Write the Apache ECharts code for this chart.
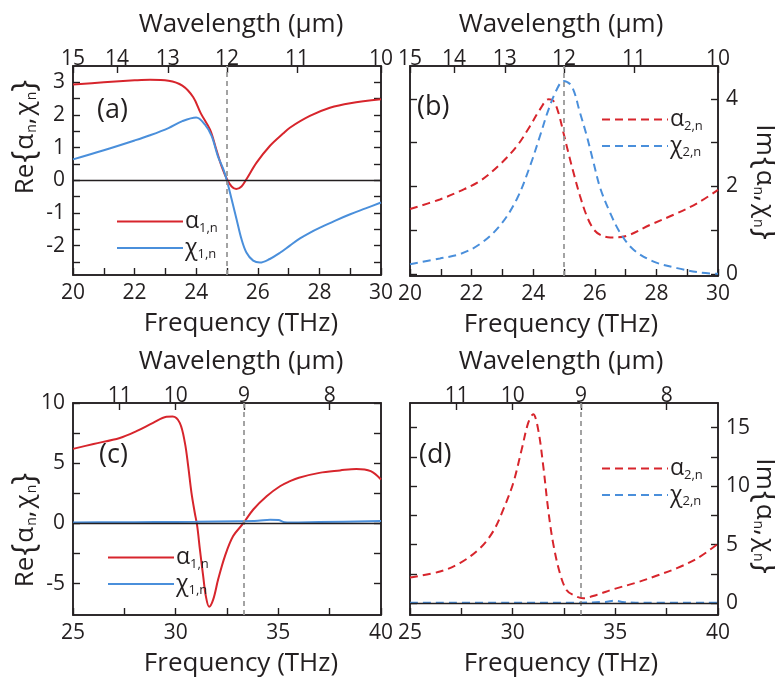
<!DOCTYPE html>
<html><head><meta charset="utf-8">
<script src="https://cdn.jsdelivr.net/npm/echarts@6/dist/echarts.min.js"></script>
<style>html,body{margin:0;padding:0;background:#fff}#c{width:775px;height:685px}</style>
</head><body><div id="c"></div>
<script>
// ---------- data ----------
// panel (a): Re{alpha_1,n}, Re{chi_1,n}
const fA_alpha = [20,21,22,22.5,23.1,23.55,23.9,24.15,24.45,24.65,24.82,25.0,25.15,25.3,25.47,25.63,25.96,26.39,26.82,27.04,27.69,28.34,29.0,30];
const vA_alpha = [2.93,3.0,3.06,3.08,3.05,2.9,2.55,2.05,1.55,0.95,0.44,0.03,-0.19,-0.27,-0.19,0.03,0.54,1.05,1.43,1.61,1.97,2.22,2.36,2.48];
const fA_chi = [20,21,22,22.5,23.1,23.55,24.0,24.28,24.5,24.7,24.88,25.0,25.15,25.31,25.47,25.63,25.85,26.07,26.39,26.72,27.04,27.37,27.7,28.02,28.5,29.0,29.5,30];
const vA_chi = [0.64,0.92,1.22,1.38,1.6,1.81,1.92,1.71,1.36,0.75,0.34,-0.02,-0.58,-1.19,-1.8,-2.21,-2.46,-2.52,-2.41,-2.22,-2.0,-1.78,-1.6,-1.45,-1.24,-1.04,-0.86,-0.68];
// panel (b): Im{alpha_2,n}, Im{chi_2,n}
const fB_alpha = [20,20.97,21.62,22.27,22.92,23.47,23.9,24.22,24.5,24.66,24.82,24.98,25.14,25.31,25.52,25.74,25.96,26.18,26.5,27.04,27.8,28.56,29.32,30];
const vB_alpha = [1.48,1.7,1.89,2.12,2.5,2.92,3.38,3.76,3.99,3.95,3.68,3.23,2.77,2.31,1.78,1.32,1.02,0.89,0.83,0.87,1.12,1.35,1.61,1.92];
const fB_chi = [20,20.97,21.62,22.27,22.92,23.47,23.9,24.22,24.5,24.77,24.98,25.25,25.52,25.74,25.96,26.18,26.5,26.83,27.26,27.91,28.67,29.42,30];
const vB_chi = [0.22,0.35,0.45,0.68,1.1,1.71,2.47,3.15,3.76,4.22,4.41,4.29,3.68,3.15,2.54,1.95,1.39,0.93,0.55,0.28,0.13,0.03,0.0];
// panel (c)
const fC_alpha = [25,26,27.28,28.09,28.9,29.55,29.85,30.2,30.45,30.61,30.77,30.93,31.05,31.18,31.34,31.47,31.63,31.83,32.07,32.4,32.8,33.29,33.78,34.43,35.08,35.57,36,37,38,38.8,39.5,40];
const vC_alpha = [6.19,6.6,7.1,7.66,8.35,8.85,8.88,8.35,6.69,4.75,2.54,0.89,-0.22,-2.16,-4.37,-6.03,-6.91,-6.3,-4.64,-2.71,-1.05,0,1.16,2.26,3.09,3.51,3.8,4.2,4.4,4.53,4.35,3.65];
const fC_chi = [25,27,29,31,33,34,34.6,35,35.3,35.6,37,40];
const vC_chi = [0.08,0.1,0.12,0.14,0.18,0.22,0.3,0.28,0.1,0.08,0.12,0.2];
// panel (d)
const fD_alpha = [25,26.46,27.43,28.41,29.05,29.54,30.03,30.44,30.76,31.0,31.24,31.49,31.73,31.97,32.3,32.62,32.95,33.43,34.08,34.9,36,37,38,39,40];
const vD_alpha = [2.2,2.71,3.43,4.71,6.14,8.0,10.28,13.14,15.42,16.14,14.85,11.71,8.0,5.14,2.57,1.14,0.71,0.43,0.71,1.2,1.75,2.35,3.0,3.85,5.08];
const fD_chi = [25,30,33,34.5,35,35.4,36,40];
const vD_chi = [0.05,0.05,0.05,0.12,0.22,0.1,0.05,0.05];
// axis tick values
const wlTicksAB = [15,14,13,12,11,10];
const wlTicksCD = [11,10,9,8];
const freqTicksAB = [20,21,22,23,24,25,26,27,28,29,30];
const freqLabelsAB = [20,22,24,26,28,30];
const freqTicksCD = [25,27.5,30,32.5,35,37.5,40];
const freqLabelsCD = [25,30,35,40];
const yTicksA = [-2.5,-2,-1.5,-1,-0.5,0,0.5,1,1.5,2,2.5,3];
const yLabelsA = [-2,-1,0,1,2,3];
const yTicksB = [0,1,2,3,4];
const yLabelsB = [0,2,4];
const yTicksC = [-5,-2.5,0,2.5,5,7.5,10];
const yLabelsC = [-5,0,5,10];
const yTicksD = [0,2.5,5,7.5,10,12.5,15];
const yLabelsD = [0,5,10,15];
const resWlAB = 12, resWlCD = 9;   // resonance wavelengths (um)
const C_UM_THZ = 300;             // c in um*THz

// ---------- styling ----------
const RED = '#d7252c', BLUE = '#4a8fdb', INK = '#231f20';
const FONT = 'Open Sans';
const zip = (a, b) => a.map((x, i) => [x, b[i]]);
const toF = arr => arr.map(w => C_UM_THZ / w);
const grids = [
  {left: 73, top: 66, width: 308, height: 209},
  {left: 410, top: 66, width: 308, height: 210},
  {left: 73, top: 403, width: 308, height: 212},
  {left: 410, top: 403, width: 308, height: 212}
].map(g => Object.assign({show: true, borderColor: INK, borderWidth: 1.5}, g));

const tick = (vals) => ({show: true, inside: true, length: 7, customValues: vals.slice(), lineStyle: {color: INK, width: 1.4}});
const lab = (vals, show, margin, fmt) => {
  const o = {show: show, customValues: vals.slice(), fontSize: 21, color: INK, fontFamily: FONT, margin: margin};
  if (fmt) o.formatter = fmt;
  return o;
};
const axLine = () => ({show: true, onZero: false, lineStyle: {color: INK, width: 1.5}});
const titleStyle = (isLeft) => ({fontSize: 26, fontFamily: FONT, color: INK,
  padding: isLeft ? [0, 0, 0, 28] : [0, 6, 0, 0]});

function xAxes(gi, min, max, fTicks, fLabels, wl, isLeft) {
  const wf = toF(wl);
  return [
    {gridIndex: gi, type: 'value', position: 'bottom', min, max, axisLine: axLine(),
     axisTick: tick(fTicks), axisLabel: lab(fLabels, true, 8), splitLine: {show: false},
     name: 'Frequency (THz)', nameLocation: 'middle', nameGap: 36, nameMoveOverlap: false, nameTextStyle: titleStyle(isLeft)},
    {gridIndex: gi, type: 'value', position: 'top', min, max, axisLine: axLine(),
     axisTick: tick(wf), axisLabel: lab(wf, true, -4, v => String(Math.round(C_UM_THZ / v))), splitLine: {show: false},
     name: 'Wavelength (μm)', nameLocation: 'middle', nameGap: 28, nameMoveOverlap: false, nameTextStyle: titleStyle(isLeft)}
  ];
}
function yAxes(gi, min, max, ticks, labels, side) {
  return [
    {gridIndex: gi, type: 'value', position: 'left', min, max, axisLine: axLine(),
     axisTick: tick(ticks), axisLabel: lab(labels, side === 'left', 8), splitLine: {show: false}},
    {gridIndex: gi, type: 'value', position: 'right', min, max, axisLine: axLine(),
     axisTick: tick(ticks), axisLabel: lab(labels, side === 'right', 8), splitLine: {show: false}}
  ];
}

const xAxis = [].concat(
  xAxes(0, 20, 30, freqTicksAB, freqLabelsAB, wlTicksAB, true),
  xAxes(1, 20, 30, freqTicksAB, freqLabelsAB, wlTicksAB, false),
  xAxes(2, 25, 40, freqTicksCD, freqLabelsCD, wlTicksCD, true),
  xAxes(3, 25, 40, freqTicksCD, freqLabelsCD, wlTicksCD, false)
);
const yAxis = [].concat(
  yAxes(0, -2.9, 3.5, yTicksA, yLabelsA, 'left'),
  yAxes(1, -0.05, 4.75, yTicksB, yLabelsB, 'right'),
  yAxes(2, -7.6, 10, yTicksC, yLabelsC, 'left'),
  yAxes(3, -1.0, 17.1, yTicksD, yLabelsD, 'right')
);

function markLines(resF, zero) {
  const data = [{xAxis: resF, lineStyle: {color: '#9a9a9a', type: [5, 4], width: 1.8}}];
  if (zero) data.push({yAxis: 0, lineStyle: {color: INK, type: 'solid', width: 1.3}});
  return {silent: true, symbol: 'none', label: {show: false}, animation: false, data};
}
function line(name, gi, data, color, dashed, ml) {
  const s = {name, type: 'line', xAxisIndex: gi * 2, yAxisIndex: gi * 2, data, showSymbol: false, symbol: 'none',
    smooth: 0.35, animation: false,
    lineStyle: {color, width: 2, type: dashed ? [8, 5] : 'solid'}, itemStyle: {color}};
  if (ml) s.markLine = ml;
  return s;
}
const series = [
  line('a1a', 0, zip(fA_alpha, vA_alpha), RED, false, markLines(C_UM_THZ / resWlAB, true)),
  line('c1a', 0, zip(fA_chi, vA_chi), BLUE, false),
  line('a2b', 1, zip(fB_alpha, vB_alpha), RED, true, markLines(C_UM_THZ / resWlAB, false)),
  line('c2b', 1, zip(fB_chi, vB_chi), BLUE, true),
  line('a1c', 2, zip(fC_alpha, vC_alpha), RED, false, markLines(C_UM_THZ / resWlCD, true)),
  line('c1c', 2, zip(fC_chi, vC_chi), BLUE, false),
  line('a2d', 3, zip(fD_alpha, vD_alpha), RED, true, markLines(C_UM_THZ / resWlCD, true)),
  line('c2d', 3, zip(fD_chi, vD_chi), BLUE, true)
];
series[7].z = 3;

const legLabel = {
  a1a: '{g|α}{s|1,n}', c1a: '{g|χ}{s|1,n}', a2b: '{g|α}{s|2,n}', c2b: '{g|χ}{s|2,n}',
  a1c: '{g|α}{s|1,n}', c1c: '{g|χ}{s|1,n}', a2d: '{g|α}{s|2,n}', c2d: '{g|χ}{s|2,n}'
};
const legRich = {
  g: {fontSize: 23, fontFamily: FONT, color: INK},
  s: {fontSize: 13, fontFamily: FONT, color: INK, padding: [13, 0, 0, 0]}
};
function legend(names, left, top) {
  return {data: names, left, top, orient: 'vertical', itemWidth: 66, itemHeight: 14, itemGap: 2,
    selectedMode: false, formatter: n => legLabel[n],
    itemStyle: {color: 'rgba(0,0,0,0)', borderWidth: 0, opacity: 0},
    textStyle: {rich: legRich, padding: [0, 0, 0, -3]}};
}

// y-axis titles (rich text with subscripts)
const titleRich = {
  r: {fontSize: 26, fontFamily: FONT, fill: INK},
  b: {fontSize: 32, fontFamily: FONT, fill: INK, padding: [0, 1, 0, 1]},
  g: {fontSize: 26, fontFamily: FONT, fill: INK},
  c: {fontSize: 26, fontFamily: FONT, fill: INK, padding: [0, 2, 0, 0]},
  s: {fontSize: 14, fontFamily: FONT, fill: INK, padding: [13, 0, 0, 1]}
};
const reTitle = '{r|Re}{b|{}{g|α}{s|n}{c|,}{g|χ}{s|n}}';
const imTitle = '{r|Im}{b|{}{g|α}{s|n}{c|,}{g|χ}{s|n}}';
const yTitles = [[reTitle, 26, 137, 1], [imTitle, 764, 182, -1], [reTitle, 26, 530, 1], [imTitle, 764, 516, -1]];
const panelLabels = [['(a)', 97, 113], ['(b)', 417, 110], ['(c)', 99, 458], ['(d)', 419, 458]];

const graphic = [].concat(
  panelLabels.map(p => ({type: 'text', left: p[1], top: p[2] - 16,
    style: {text: p[0], fontSize: 27, fontFamily: FONT, fill: INK}})),
  yTitles.map(t => ({type: 'text', x: t[1], y: t[2], rotation: t[3] * Math.PI / 2,
    style: {text: t[0], rich: titleRich, fontSize: 32, fontFamily: FONT, fill: INK, align: 'center', verticalAlign: 'middle'}}))
);

const chart = echarts.init(document.getElementById('c'), null, {renderer: 'canvas'});
chart.setOption({
  animation: false,
  textStyle: {fontFamily: FONT},
  grid: grids,
  xAxis, yAxis, series,
  legend: [
    legend(['a1a', 'c1a'], 111, 205),
    legend(['a2b', 'c2b'], 596, 103),
    legend(['a1c', 'c1c'], 102, 541),
    legend(['a2d', 'c2d'], 596, 452)
  ],
  graphic
});
</script>
</body></html>
